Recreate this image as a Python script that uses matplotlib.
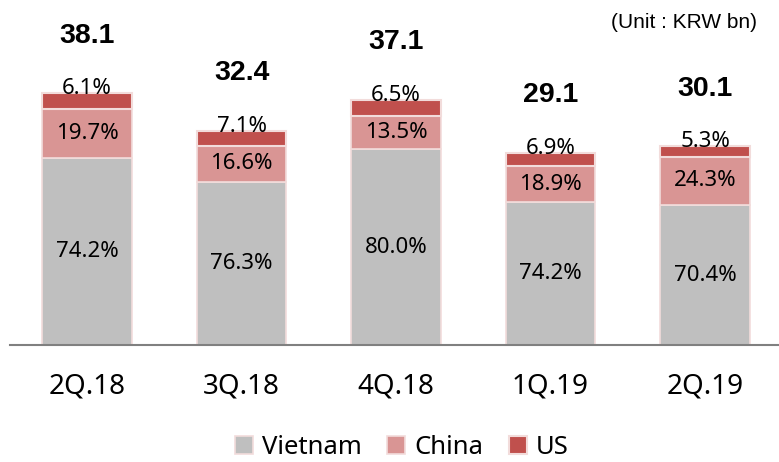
import numpy as np
import matplotlib.pyplot as plt

quarters = ['2Q.18', '3Q.18', '4Q.18', '1Q.19', '2Q.19']
totals = [38.1, 32.4, 37.1, 29.1, 30.1]
vietnam_pct = [74.2, 76.3, 80.0, 74.2, 70.4]
china_pct = [19.7, 16.6, 13.5, 18.9, 24.3]
us_pct = [6.1, 7.1, 6.5, 6.9, 5.3]

col_vn = '#BFBFBF'
col_cn = '#D99594'
col_us = '#C0504D'
edge = '#F2DCDB'

tot = np.array(totals)
vn = tot * np.array(vietnam_pct) / 100
cn = tot * np.array(china_pct) / 100
us = tot * np.array(us_pct) / 100
x = np.arange(len(quarters))

fig = plt.figure(figsize=(7.79, 4.62), dpi=100)
ax = fig.add_axes([0.013, 0.253, 0.987, 0.747])
w = 0.58
ax.bar(x, vn, w, color=col_vn, edgecolor=edge, linewidth=1.2, label='Vietnam')
ax.bar(x, cn, w, bottom=vn, color=col_cn, edgecolor=edge, linewidth=1.2, label='China')
ax.bar(x, us, w, bottom=vn + cn, color=col_us, edgecolor=edge, linewidth=1.5, label='US')

lbl_font = 'Noto Sans'
for i in x:
    ax.text(i, vn[i] / 2, f'{vietnam_pct[i]:.1f}%', ha='center', va='center',
            fontsize=16, family=lbl_font)
    ax.text(i, vn[i] + cn[i] / 2, f'{china_pct[i]:.1f}%', ha='center', va='center',
            fontsize=16, family=lbl_font)
    ax.text(i, tot[i] - 0.15, f'{us_pct[i]:.1f}%', ha='center', va='baseline',
            fontsize=16, family=lbl_font)
    ax.text(i, tot[i] + 8.7, f'{totals[i]:.1f}', ha='center', va='center',
            fontsize=20.5, fontweight='bold', family='Liberation Sans')

ax.set_xlim(-0.498, 4.479)
ax.set_ylim(0, 52.2)
ax.set_yticks([])
ax.set_xticks(x)
ax.set_xticklabels(quarters, fontsize=20, family=lbl_font)
ax.tick_params(axis='x', length=0, pad=20)
for s in ['top', 'right', 'left']:
    ax.spines[s].set_visible(False)
ax.spines['bottom'].set_color('#808080')
ax.spines['bottom'].set_linewidth(1.5)

fig.text(0.972, 0.951, '(Unit : KRW bn)', ha='right', va='center',
         fontsize=15, family='Liberation Sans')

leg = fig.legend(loc='center', bbox_to_anchor=(0.516, 0.032), ncol=3, frameon=False,
                 prop={'family': lbl_font, 'size': 18.5}, handlelength=0.7,
                 handleheight=0.7, handletextpad=0.35, columnspacing=1.0,
                 borderpad=0.1)

fig.savefig('out.png', dpi=100)
